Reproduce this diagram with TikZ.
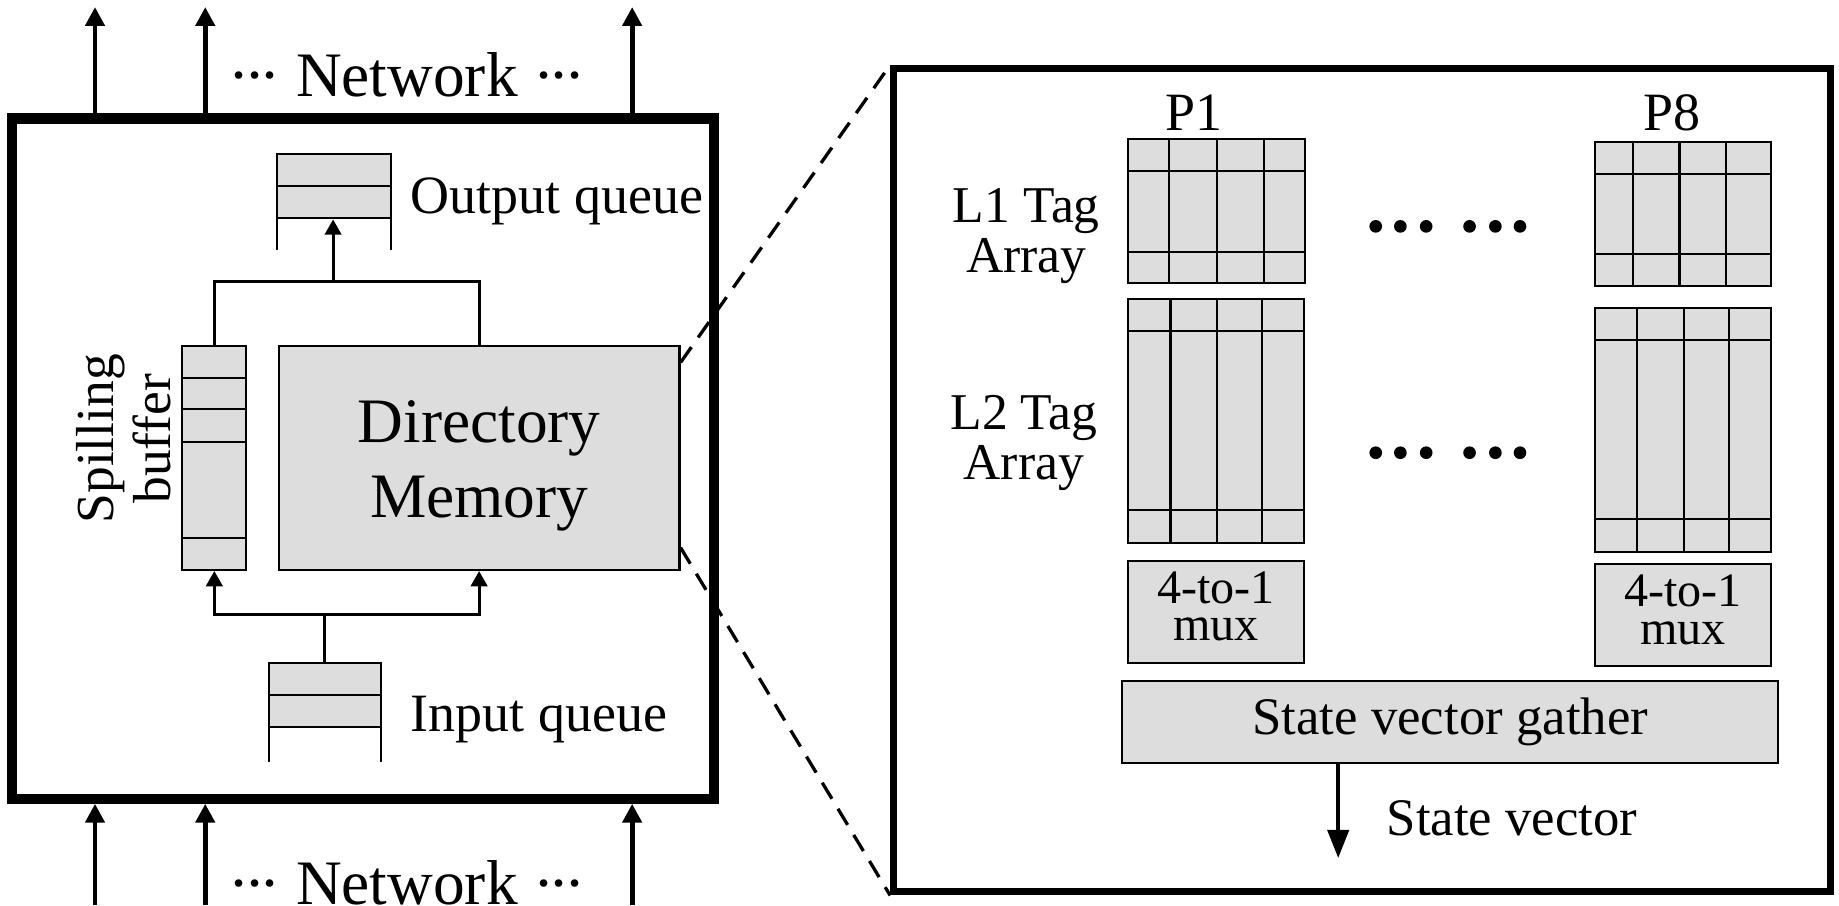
\documentclass[tikz,border=0pt]{standalone}
\usepackage{fontspec}
\setmainfont{Liberation Serif}
\usetikzlibrary{arrows.meta}
\definecolor{cellgray}{gray}{0.865}
\tikzset{
  cell/.style={draw, line width=0.9pt, fill=cellgray, inner sep=0pt},
  cellline/.style={line width=0.9pt},
  wire/.style={line width=1.3pt},
  warrow/.style={wire, -{Triangle[width=7pt,length=6.5pt]}},
  netarrow/.style={line width=2pt, -{Triangle[width=8pt,length=8pt]}},
  svarrow/.style={line width=1.7pt, -{Triangle[width=9pt,length=12pt]}},
  dashline/.style={line width=1.4pt, dash pattern=on 8pt off 5pt},
  bigtxt/.style={font=\fontsize{27pt}{32pt}\selectfont, inner sep=0pt},
  midtxt/.style={font=\fontsize{23pt}{27pt}\selectfont, inner sep=0pt},
  lbltxt/.style={font=\fontsize{22pt}{21.5pt}\selectfont, inner sep=0pt, align=center},
  muxtxt/.style={font=\fontsize{20.5pt}{16pt}\selectfont, inner sep=0pt, align=center},
}
\newcommand{\mydots}{·\kern-2.5pt·\kern-2.5pt·}
\newcommand{\cellbox}[5]{%
  \node[cell, minimum width={(#4-#2)*0.5pt}, minimum height={(#5-#3)*0.5pt}] (#1) at ({(#2+#4)/2},{(#3+#5)/2}) {};}
\newcommand{\tagarr}[8]{%
  \cellbox{#1}{#2}{#3}{#4}{#5}
  \draw[cellline] (#2,#6) -- (#4,#6) (#2,#7) -- (#4,#7);
  \foreach \c in {#8} {\draw[cellline] (#2+\c,#3) -- (#2+\c,#5);}
}
\begin{document}
\begin{tikzpicture}[x=0.5pt, y=-0.5pt]
\useasboundingbox (0,0) rectangle (1568,772);

% ---------- left block ----------
\node[draw, line width=4.3pt, minimum width=299.25pt, minimum height=290pt, inner sep=0pt] (lb) at (309.75,391) {};

\coordinate (nt1) at (81,6);
\coordinate (nt2) at (175,6);
\coordinate (nt3) at (539,6);
\coordinate (nb1) at (81,772);
\coordinate (nb2) at (175,772);
\coordinate (nb3) at (539,772);
\foreach \i in {1,2,3} {
  \draw[netarrow] (nt\i |- lb.north) -- (nt\i);
  \draw[netarrow] (nb\i) -- (nb\i |- lb.south);
}
\node[bigtxt, anchor=base] (nettop) at (347,82.4) {\mydots{} Network \mydots};
\node[bigtxt, anchor=base] (netbot) at (347,771.5) {\mydots{} Network \mydots};

% output queue
\cellbox{oq}{236}{131.3}{333}{186.2}
\draw[cellline] (236,158.6) -- (333,158.6);
\draw[cellline] (236,186.2) -- (236,213.2) (333,186.2) -- (333,213.2);
\node[midtxt, anchor=base west] (oqt) at (350,182) {Output queue};

% spilling buffer
\cellbox{sb}{155.5}{294.7}{210}{486}
\foreach \yy in {322,349,376.6,459} {\draw[cellline] (155.5,\yy) -- (210,\yy);}
\node[rotate=90, align=center, font=\fontsize{22.8pt}{24.2pt}\selectfont, inner sep=0pt] (sbt) at (105.5,374) {Spilling\\buffer};

% directory memory
\cellbox{dm}{237.6}{294.7}{579.4}{486}
\node[bigtxt, align=center] (dmt) at (408.5,397.3) {Directory\\Memory};

% input queue
\cellbox{iq}{229}{565}{325}{620}
\draw[cellline] (229,592.6) -- (325,592.6);
\draw[cellline] (229,620) -- (229,650) (325,620) -- (325,650);
\node[midtxt, anchor=base west] (iqt) at (350,624) {Input queue};

% connectors
\coordinate (jt) at (284,240);
\draw[wire] (sb.north) |- (jt) -| (dm.north);
\draw[warrow] (jt) -- (jt |- oq.south);
\coordinate (jb) at (277,524);
\draw[wire] (iq.north) -- (jb);
\draw[warrow] (jb) -| (sb.south);
\draw[warrow] (jb) -| (dm.south);

% ---------- right block ----------
\node[draw, line width=3pt, minimum width=399.5pt, minimum height=351.1pt, inner sep=0pt] (rb) at (1161.5,409.4) {};
\draw[dashline] ([yshift=-7.6pt]dm.north east) -- (rb.north west);
\draw[dashline] ([yshift=10pt]dm.south east) -- (rb.south west);

\node[midtxt, anchor=base] (p1) at (1018,111) {P1};
\node[midtxt, anchor=base] (p8) at (1426,111) {P8};

\tagarr{la1}{962}{118.5}{1113}{241.5}{146}{215}{35,76,116}
\tagarr{la8}{1360}{120.8}{1510}{243.9}{148.4}{216.6}{32,72,112}
\tagarr{lb1}{962}{255.2}{1112}{463.3}{282.2}{434.9}{36,76,114}
\tagarr{lb8}{1360}{262.9}{1510}{470.4}{289.9}{442.8}{36,76,114}

\node[lbltxt] (l1t) at (875,201.4) {L1 Tag\\Array};
\node[lbltxt] (l2t) at (873,377.7) {L2 Tag\\Array};

\foreach \x in {1173,1194,1216,1253,1275,1296} {
  \fill (\x,193) circle (2.7pt);
  \fill (\x,386) circle (2.7pt);
}

\cellbox{mx1}{962}{478.3}{1112}{565.6}
\node[muxtxt] (mx1t) at (1037,517) {4-to-1\\mux};
\cellbox{mx8}{1360}{481}{1510}{568}
\node[muxtxt] (mx8t) at (1435,520) {4-to-1\\mux};

\node[cell, minimum width=279.5pt, minimum height=34.75pt, font=\fontsize{22.5pt}{27pt}\selectfont] (svg) at (1236.5,615.75) {State vector gather};
\coordinate (svend) at (1141,731.6);
\draw[svarrow] (svg.south -| svend) -- (svend);
\node[midtxt, anchor=base west, font=\fontsize{22.5pt}{27pt}\selectfont] (svt) at (1182,712) {State vector};
\end{tikzpicture}
\end{document}
